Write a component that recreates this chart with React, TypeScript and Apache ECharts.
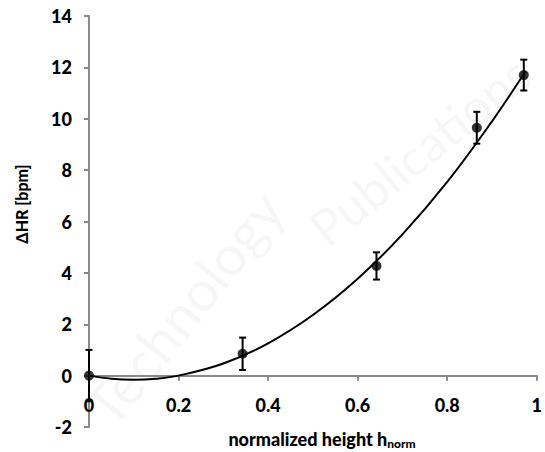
import React, { useEffect, useRef } from "react";
import * as echarts from "echarts";

const xTickLabels = ["0", "0.2", "0.4", "0.6", "0.8", "1"];
const yTickLabels = ["-2", "0", "2", "4", "6", "8", "10", "12", "14"];

// measured points: x (normalized height), mean ΔHR, error half-width
const pointX = [0, 0.343, 0.642, 0.866, 0.971];
const pointY = [0, 0.85, 4.27, 9.65, 11.7];
const pointErr = [1.0, 0.63, 0.53, 0.62, 0.6];

// fitted curve
const curveX = [0, 0.05, 0.1, 0.15, 0.2, 0.3, 0.4, 0.5, 0.6, 0.7, 0.8, 0.9, 0.975];
const curveY = [0, -0.12, -0.16, -0.12, 0, 0.47, 1.26, 2.36, 3.77, 5.5, 7.54, 9.9, 11.85];

const FONT = "Lato";

export default function App() {
  const ref = useRef<HTMLDivElement>(null);

  useEffect(() => {
    if (!ref.current) return;
    const chart = echarts.init(ref.current, null, { renderer: "svg" });

    const points = pointX.map((x, i) => [x, pointY[i]]);
    const errs = pointX.map((x, i) => [x, pointY[i] - pointErr[i], pointY[i] + pointErr[i]]);
    const curve = curveX.map((x, i) => [x, curveY[i]]);

    const option: any = {
      animation: false,
      backgroundColor: "#ffffff",
      grid: { left: 89, right: 3, top: 16, bottom: 25, containLabel: false },
      xAxis: {
        type: "value",
        min: 0,
        max: 1,
        interval: 0.2,
        axisLine: { show: true, onZero: true, lineStyle: { color: "#8a8a8a", width: 2 } },
        axisTick: { show: true, inside: false, length: 5, lineStyle: { color: "#8a8a8a", width: 2 } },
        splitLine: { show: false },
        axisLabel: {
          margin: -31,
          fontFamily: FONT,
          fontWeight: 900,
          fontSize: 18,
          color: "#000",
          showMinLabel: true,
          showMaxLabel: true,
          formatter: (v: number) => {
            const idx = Math.round(v / 0.2);
            return xTickLabels[idx] ?? "";
          },
        },
      },
      yAxis: {
        type: "value",
        min: -2,
        max: 14,
        interval: 2,
        axisLine: { show: true, onZero: false, lineStyle: { color: "#8a8a8a", width: 2 } },
        axisTick: { show: true, inside: false, length: 5, lineStyle: { color: "#8a8a8a", width: 2 } },
        splitLine: { show: false },
        axisLabel: {
          margin: 17,
          fontFamily: FONT,
          fontWeight: 900,
          fontSize: 18,
          color: "#000",
          formatter: (v: number) => {
            const idx = Math.round((v + 2) / 2);
            return yTickLabels[idx] ?? "";
          },
        },
      },
      graphic: [
        {
          type: "text",
          z: -10,
          x: 75,
          y: 400,
          rotation: 0.9,
          silent: true,
          style: {
            text: "Technology",
            fontFamily: FONT,
            fontSize: 56,
            fill: "rgba(0,0,0,0.035)",
          },
        },
        {
          type: "text",
          z: -10,
          x: 300,
          y: 215,
          rotation: 0.68,
          silent: true,
          style: {
            text: "Publications",
            fontFamily: FONT,
            fontSize: 50,
            fill: "rgba(0,0,0,0.035)",
          },
        },
        {
          type: "text",
          x: 21,
          y: 204,
          rotation: Math.PI / 2,
          style: {
            text: "ΔHR [bpm]",
            fontFamily: FONT,
            fontWeight: 900,
            fontSize: 16,
            fill: "#000",
            align: "center",
            verticalAlign: "middle",
          },
        },
        {
          type: "text",
          x: 322,
          y: 439,
          style: {
            text: "{a|normalized height h}{b|norm}",
            fontFamily: FONT,
            align: "center",
            verticalAlign: "middle",
            rich: {
              a: { fontFamily: FONT, fontWeight: 900, fontSize: 18, fill: "#000" },
              b: { fontFamily: FONT, fontWeight: 900, fontSize: 12, fill: "#000", padding: [9, 0, 0, 0] },
            },
          },
        },
      ],
      series: [
        {
          type: "line",
          data: curve,
          smooth: 0.4,
          showSymbol: false,
          symbol: "none",
          lineStyle: { color: "#000", width: 2 },
          z: 3,
        },
        {
          type: "custom",
          data: errs,
          z: 4,
          renderItem: (params: any, api: any) => {
            const x = api.value(0);
            const lo = api.coord([x, api.value(1)]);
            const hi = api.coord([x, api.value(2)]);
            const w = 3.5;
            const style = { stroke: "#000", lineWidth: 2 };
            return {
              type: "group",
              children: [
                { type: "line", shape: { x1: lo[0], y1: lo[1], x2: hi[0], y2: hi[1] }, style },
                { type: "line", shape: { x1: lo[0] - w, y1: lo[1], x2: lo[0] + w, y2: lo[1] }, style },
                { type: "line", shape: { x1: hi[0] - w, y1: hi[1], x2: hi[0] + w, y2: hi[1] }, style },
              ],
            };
          },
        },
        {
          type: "scatter",
          data: points,
          symbol: "circle",
          symbolSize: 10,
          itemStyle: { color: "#000" },
          z: 5,
        },
      ],
    };

    chart.setOption(option);
    return () => chart.dispose();
  }, []);

  return (
    <div
      ref={ref}
      style={{ position: "fixed", left: 0, top: 0, width: 545, height: 452 }}
    />
  );
}
